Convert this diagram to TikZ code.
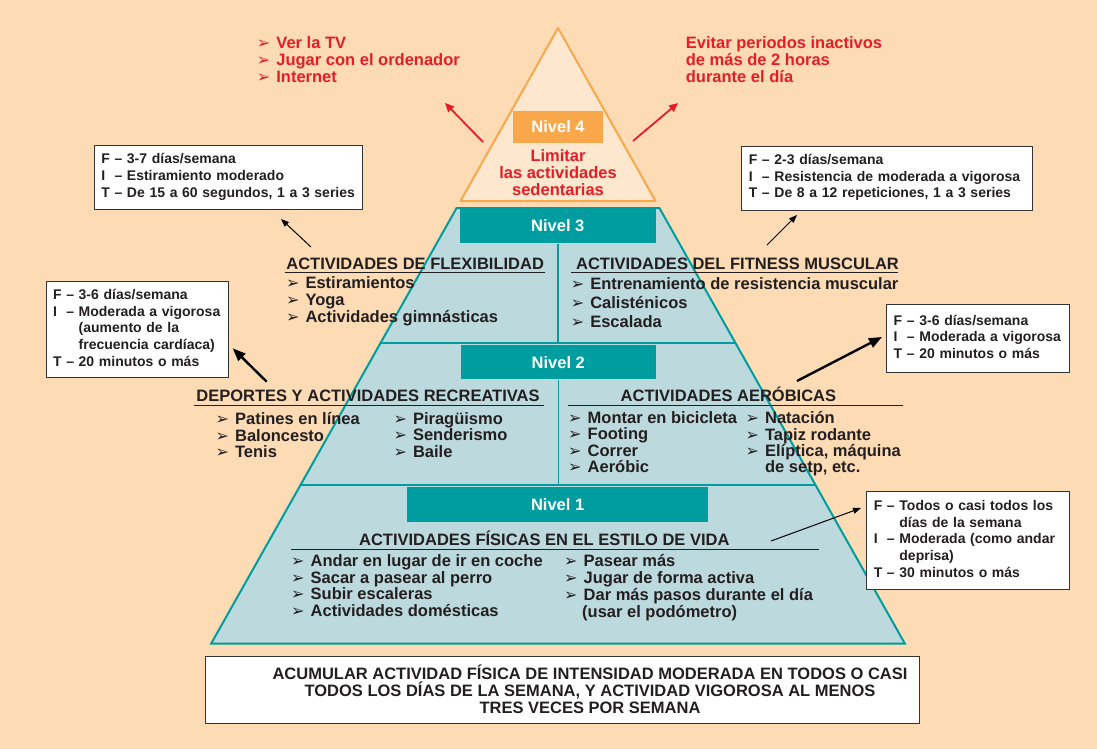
\documentclass[tikz,border=0pt]{standalone}
\usepackage{fontspec}
\setmainfont{Liberation Sans}
\newfontfamily\dingfont{DejaVu Sans}
\usetikzlibrary{arrows.meta}

\definecolor{fondo}{RGB}{253,219,180}
\definecolor{turquesa}{RGB}{0,157,160}
\definecolor{celeste}{RGB}{188,217,221}
\definecolor{naranja}{RGB}{248,168,75}
\definecolor{crema}{RGB}{253,231,206}
\definecolor{rojo}{RGB}{228,30,38}
\definecolor{texto}{RGB}{35,31,32}

\newcommand{\flecha}{\makebox[19.5pt][l]{\dingfont\fontsize{16}{16}\selectfont ➢}}

\tikzset{
  nivel/.style={fill=turquesa, text=white, font=\bfseries\fontsize{16.5}{17}\selectfont, inner sep=0pt},
  titulo/.style={anchor=base, inner sep=0pt, font=\bfseries\fontsize{16.5}{17}\selectfont, text=texto},
  lista/.style={anchor=north west, inner sep=0pt, align=left, font=\bfseries\fontsize{16.5}{17}\selectfont, text=texto},
  recuadro/.style={draw=black!80, fill=white, line width=0.9pt, inner xsep=7pt, inner ysep=0pt, align=left, font=\bfseries\fontsize{14}{16.6}\selectfont, text=texto},
  flechita/.style={-{Triangle[length=8pt,width=6pt]}, line width=1pt, black},
  flechota/.style={-{Triangle[length=13pt,width=10pt]}, line width=2.4pt, black},
  flecharoja/.style={-{Triangle[length=9pt,width=8pt]}, line width=1.8pt, rojo},
  subrayado/.style={line width=0.8pt, texto},
}

\begin{document}
\begin{tikzpicture}[x=1pt, y=-1pt]
    % Fondo
    \fill[fondo] (0,0) rectangle (1097,749);
    \useasboundingbox (0,0) rectangle (1097,749);

    % Nivel 4: triangulo superior
    \draw[naranja, line width=2pt, fill=crema, line join=round] (558,28) -- (655.5,201) -- (460.5,201) -- cycle;
    \node[nivel, fill=naranja, minimum width=90pt, minimum height=32pt] (niv4) at (558,127) {Nivel 4};
    \node[anchor=north, align=center, inner sep=0pt, font=\bfseries\fontsize{16.5}{16.7}\selectfont, text=rojo] (limitar) at (558,149.7) {Limitar\\las actividades\\sedentarias};

    % Actividades sedentarias
    \node[lista, text=rojo, font=\bfseries\fontsize{16.5}{16.7}\selectfont] (sedent) at (256.7,36.5) {\flecha Ver la TV\\\flecha Jugar con el ordenador\\\flecha Internet};
    \node[lista, text=rojo, font=\bfseries\fontsize{16.5}{16.7}\selectfont] (evitar) at (685.7,36.5) {Evitar periodos inactivos\\de más de 2 horas\\durante el día};
    \coordinate (sedentori) at (483,142);
    \coordinate (sedentpunta) at (445,103);
    \coordinate (evitarori) at (633,141);
    \coordinate (evitarpunta) at (678,103);
    \draw[flecharoja] (sedentori) -- (sedentpunta);
    \draw[flecharoja] (evitarori) -- (evitarpunta);

    % Niveles 1 a 3
    \draw[turquesa, line width=2pt, fill=celeste] (456.6,208) -- (659.4,208) -- (904.8,643.5) -- (211.2,643.5) -- cycle;
    \draw[turquesa, line width=2pt] (380.5,343) -- (735.5,343);
    \draw[turquesa, line width=2pt] (300.5,485) -- (815.5,485);
    \node[nivel, minimum width=195.7pt, minimum height=35pt] (niv3) at (557.8,225.8) {Nivel 3};
    \node[nivel, minimum width=195pt, minimum height=34.3pt] (niv2) at (558.3,362.2) {Nivel 2};
    \node[nivel, minimum width=301pt, minimum height=34.4pt] (niv1) at (557.6,504.5) {Nivel 1};
    \draw[turquesa, line width=1.5pt] (niv3.south) -- (557.8,343);
    \draw[turquesa, line width=1.5pt] (niv2.south) -- (558.3,485);

    % Nivel 3
    \node[titulo] (flexi) at (415.2,269) {ACTIVIDADES DE FLEXIBILIDAD};
    \draw[subrayado] (284.5,272.5) -- (544.5,272.5);
    \node[lista] (flexilista) at (285.8,276) {\flecha Estiramientos\\\flecha Yoga\\\flecha Actividades gimnásticas};
    \node[titulo] (fitness) at (737.5,269) {ACTIVIDADES DEL FITNESS MUSCULAR};
    \draw[subrayado] (570.6,272.5) -- (898,272.5);
    \node[lista, font=\bfseries\fontsize{16.5}{19}\selectfont] (fitnesslista) at (570.6,277) {\flecha Entrenamiento de resistencia muscular\\\flecha Calisténicos\\\flecha Escalada};

    % Nivel 2
    \node[titulo] (recrea) at (368,401.7) {DEPORTES Y ACTIVIDADES RECREATIVAS};
    \draw[subrayado] (194,405.5) -- (544.3,405.5);
    \node[lista, font=\bfseries\fontsize{16.5}{16.7}\selectfont] (recrealista) at (215.4,412) {\flecha Patines en línea\\\flecha Baloncesto\\\flecha Tenis};
    \node[lista, font=\bfseries\fontsize{16.5}{16.7}\selectfont] (recrealista2) at (393.3,412) {\flecha Piragüismo\\\flecha Senderismo\\\flecha Baile};
    \node[titulo] (aerob) at (728.4,401.7) {ACTIVIDADES AERÓBICAS};
    \draw[subrayado] (568,405.5) -- (903,405.5);
    \node[lista, font=\bfseries\fontsize{16.5}{16.4}\selectfont] (aeroblista) at (568,411.3) {\flecha Montar en bicicleta\\\flecha Footing\\\flecha Correr\\\flecha Aeróbic};
    \node[lista, font=\bfseries\fontsize{16.5}{16.4}\selectfont] (aeroblista2) at (745.4,411.3) {\flecha Natación\\\flecha Tapiz rodante\\\flecha Elíptica, máquina\\\hspace*{19.5pt}de setp, etc.};

    % Nivel 1
    \node[titulo] (vida) at (544.3,545.7) {ACTIVIDADES FÍSICAS EN EL ESTILO DE VIDA};
    \draw[subrayado] (291,549.5) -- (819,549.5);
    \node[lista, font=\bfseries\fontsize{16.5}{16.9}\selectfont] (vidalista) at (291,554) {\flecha Andar en lugar de ir en coche\\\flecha Sacar a pasear al perro\\\flecha Subir escaleras\\\flecha Actividades domésticas};
    \node[lista, font=\bfseries\fontsize{16.5}{16.9}\selectfont] (vidalista2) at (564,554) {\flecha Pasear más\\\flecha Jugar de forma activa\\\flecha Dar más pasos durante el día\\\hspace*{18pt}(usar el podómetro)};

    % Recuadros FIT
    \node[recuadro, text width=254.4pt, minimum height=64.3pt] (fitflexi) at (228.5,177.2) {\begin{tabular}{@{}l@{\ }l@{\ }l@{}}
        F & – & 3-7 días/semana\\
        I & – & Estiramiento moderado\\
        T & – & De 15 a 60 segundos, 1 a 3 series
    \end{tabular}};
    \node[recuadro, text width=276.3pt, minimum height=64pt] (fitfitness) at (886.9,178) {\begin{tabular}{@{}l@{\ }l@{\ }l@{}}
        F & – & 2-3 días/semana\\
        I & – & Resistencia de moderada a vigorosa\\
        T & – & De 8 a 12 repeticiones, 1 a 3 series
    \end{tabular}};
    \node[recuadro, text width=168.3pt, minimum height=95.6pt] (fitrecrea) at (137.2,329.5) {\begin{tabular}{@{}l@{\ }l@{\ }l@{}}
        F & – & 3-6 días/semana\\
        I & – & Moderada a vigorosa\\
          &   & (aumento de la\\
          &   & frecuencia cardíaca)\\
        T & – & 20 minutos o más
    \end{tabular}};
    \node[recuadro, text width=168.6pt, minimum height=68pt] (fitaerob) at (978,338.3) {\begin{tabular}{@{}l@{\ }l@{\ }l@{}}
        F & – & 3-6 días/semana\\
        I & – & Moderada a vigorosa\\
        T & – & 20 minutos o más
    \end{tabular}};
    \node[recuadro, text width=188.3pt, minimum height=97.6pt] (fitvida) at (967.9,540.5) {\begin{tabular}{@{}l@{\ }l@{\ }l@{}}
        F & – & Todos o casi todos los\\
          &   & días de la semana\\
        I & – & Moderada (como andar\\
          &   & deprisa)\\
        T & – & 30 minutos o más
    \end{tabular}};

    % Flechas hacia los recuadros
    \coordinate (flexiori) at (311,247);
    \coordinate (flexipunta) at (281,219);
    \coordinate (fitnessori) at (767,245);
    \coordinate (fitnesspunta) at (797,215);
    \coordinate (recreaori) at (266.7,381.7);
    \coordinate (recreapunta) at (232.7,348.3);
    \coordinate (aerobori) at (797,381);
    \coordinate (aerobpunta) at (882,337);
    \coordinate (vidaori) at (771,541);
    \coordinate (vidapunta) at (861,508);
    \draw[flechita] (flexiori) -- (flexipunta);
    \draw[flechita] (fitnessori) -- (fitnesspunta);
    \draw[flechota] (recreaori) -- (recreapunta);
    \draw[flechota] (aerobori) -- (aerobpunta);
    \draw[flechita] (vidaori) -- (vidapunta);

    % Recomendacion final
    \node[draw=black!80, fill=white, line width=1pt, minimum width=713.3pt, minimum height=67.3pt, inner sep=0pt] (resumen) at (562.4,689.7) {};
    \node[anchor=north, align=center, inner sep=0pt, font=\bfseries\fontsize{16.5}{16.7}\selectfont, text=texto] (resumentexto) at (590,665) {ACUMULAR ACTIVIDAD FÍSICA DE INTENSIDAD MODERADA EN TODOS O CASI\\TODOS LOS DÍAS DE LA SEMANA, Y ACTIVIDAD VIGOROSA AL MENOS\\TRES VECES POR SEMANA};
\end{tikzpicture}
\end{document}
